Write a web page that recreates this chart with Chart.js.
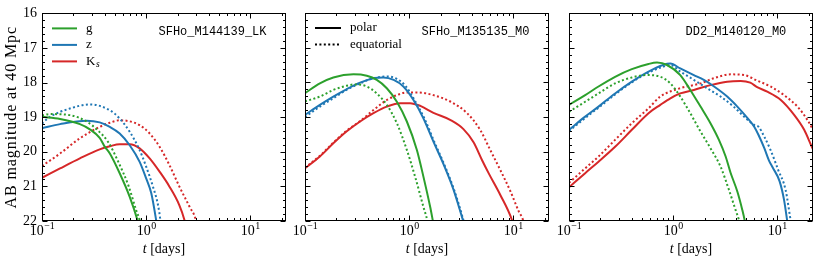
<!DOCTYPE html>
<html>
<head>
<meta charset="utf-8">
<script src="https://cdn.jsdelivr.net/npm/chart.js@4.4.0/dist/chart.umd.min.js"></script>
<style>
  body { margin: 0; background: #fff; }
  #wrap { position: relative; width: 830px; height: 260px; overflow: hidden; }
  canvas { position: absolute; top: 0; }
</style>
</head>
<body>
<div id="wrap">
  <canvas id="c1" width="300" height="260" style="left:0px"></canvas>
  <canvas id="c2" width="280" height="260" style="left:285px"></canvas>
  <canvas id="c3" width="281" height="260" style="left:549px"></canvas>
</div>
<script>
// light curves: [t in days, AB magnitude]
const xMajor = [0.1, 1, 10];
const xExp = ['\u22121', '0', '1'];
const yTicks = [16, 17, 18, 19, 20, 21, 22];
const yTitle = 'AB magnitude at 40 Mpc';
const modelNames = ['SFHo_M144139_LK', 'SFHo_M135135_M0', 'DD2_M140120_M0'];
const bandNames = ['g', 'z', 'K'];
const viewNames = ['polar', 'equatorial'];

// panel 1: SFHo_M144139_LK
const p1_gPol = [[0.1,18.99],[0.149,19.05],[0.231,19.2],[0.288,19.35],[0.358,19.6],[0.40,19.85],[0.448,20.05],[0.557,20.62],[0.695,21.3],[0.824,21.97],[0.86,22.2]];
const p1_gEq  = [[0.1,18.95],[0.119,18.91],[0.185,18.94],[0.27,19.13],[0.34,19.37],[0.43,19.71],[0.54,20.29],[0.68,21.0],[0.80,21.68],[0.866,21.97],[0.9,22.2]];
const p1_zPol = [[0.1,19.32],[0.149,19.2],[0.268,19.1],[0.358,19.15],[0.448,19.28],[0.557,19.47],[0.695,19.81],[0.866,20.29],[1.0,20.77],[1.12,21.2],[1.246,21.97],[1.28,22.2]];
const p1_zEq  = [[0.1,19.18],[0.119,18.99],[0.185,18.75],[0.29,18.63],[0.448,18.8],[0.557,19.04],[0.695,19.42],[0.866,19.95],[1.0,20.43],[1.16,21.0],[1.30,21.54],[1.37,21.97],[1.4,22.2]];
const p1_kPol = [[0.1,20.75],[0.149,20.48],[0.231,20.19],[0.358,19.93],[0.448,19.84],[0.557,19.78],[0.695,19.78],[0.866,19.9],[1.08,20.19],[1.35,20.58],[1.67,21.0],[2.08,21.54],[2.33,21.97],[2.42,22.2]];
const p1_kEq  = [[0.1,20.41],[0.149,20.05],[0.231,19.61],[0.358,19.28],[0.448,19.16],[0.557,19.09],[0.695,19.12],[0.866,19.23],[1.08,19.47],[1.35,19.86],[1.67,20.38],[2.08,21.0],[2.61,21.59],[3.0,21.97],[3.1,22.2]];

// panel 2: SFHo_M135135_M0
const p2_gPol = [[0.1,18.31],[0.139,18.03],[0.187,17.86],[0.292,17.77],[0.392,17.81],[0.489,17.93],[0.61,18.17],[0.762,18.56],[0.95,19.13],[1.186,19.95],[1.37,20.72],[1.59,21.59],[1.69,22.0],[1.74,22.2]];
const p2_gEq  = [[0.1,18.55],[0.139,18.41],[0.187,18.22],[0.25,18.1],[0.303,18.06],[0.392,18.12],[0.489,18.32],[0.61,18.65],[0.762,19.18],[0.95,19.95],[1.14,20.72],[1.37,21.59],[1.5,22.0],[1.55,22.2]];
const p2_zPol = [[0.1,18.94],[0.139,18.65],[0.187,18.41],[0.25,18.2],[0.338,18.01],[0.454,17.88],[0.565,17.86],[0.71,17.93],[0.88,18.12],[1.1,18.51],[1.37,19.04],[1.71,19.71],[2.15,20.38],[2.67,21.1],[3.21,21.88],[3.3,22.0],[3.4,22.2]];
const p2_zEq  = [[0.1,19.0],[0.139,18.7],[0.187,18.46],[0.25,18.22],[0.338,18.03],[0.454,17.88],[0.61,17.83],[0.76,17.9],[0.92,18.1],[1.12,18.5],[1.4,19.04],[1.74,19.71],[2.18,20.38],[2.7,21.1],[3.25,21.88],[3.33,22.0],[3.43,22.2]];
const p2_kPol = [[0.1,20.48],[0.139,20.14],[0.187,19.76],[0.25,19.42],[0.338,19.13],[0.454,18.89],[0.61,18.7],[0.818,18.6],[1.02,18.6],[1.28,18.68],[1.71,18.88],[2.5,19.09],[3.32,19.35],[4.15,19.73],[5.0,20.24],[5.79,20.62],[7.5,21.25],[9.7,21.97],[10.2,22.2]];
const p2_kEq  = [[0.1,20.46],[0.139,20.12],[0.187,19.74],[0.25,19.4],[0.338,19.12],[0.454,18.8],[0.61,18.51],[0.762,18.37],[0.95,18.29],[1.19,18.29],[1.71,18.37],[2.5,18.56],[3.6,18.89],[4.8,19.37],[6.0,19.95],[7.5,20.53],[9.4,21.15],[11.3,21.73],[12.4,21.97],[12.9,22.2]];

// panel 3: DD2_M140120_M0
const p3_gPol = [[0.1,18.65],[0.143,18.37],[0.192,18.12],[0.277,17.84],[0.401,17.62],[0.58,17.47],[0.70,17.43],[0.873,17.5],[1.17,17.79],[1.46,18.22],[1.83,18.7],[2.28,19.18],[2.75,19.66],[3.19,20.14],[3.55,20.6],[4.13,21.15],[4.61,21.68],[4.85,21.97],[5.0,22.2]];
const p3_gEq  = [[0.1,18.85],[0.143,18.56],[0.192,18.32],[0.277,18.03],[0.401,17.86],[0.56,17.79],[0.753,17.84],[0.94,18.03],[1.17,18.41],[1.46,18.89],[1.83,19.42],[2.28,19.9],[2.85,20.43],[3.43,21.1],[3.97,21.68],[4.28,21.97],[4.45,22.2]];
const p3_zPol = [[0.1,19.37],[0.143,18.99],[0.192,18.7],[0.277,18.32],[0.401,17.98],[0.58,17.69],[0.80,17.5],[0.94,17.46],[1.17,17.6],[1.58,17.79],[1.97,17.93],[2.47,18.12],[3.3,18.41],[4.13,18.7],[5.2,19.04],[6.0,19.28],[6.6,19.52],[7.5,19.9],[8.3,20.25],[9.0,20.45],[10.5,20.85],[11.6,21.39],[12.4,21.97],[12.7,22.2]];
const p3_zEq  = [[0.1,19.4],[0.143,19.03],[0.192,18.73],[0.277,18.35],[0.401,18.0],[0.58,17.72],[0.80,17.55],[0.94,17.5],[1.17,17.69],[1.58,17.93],[2.12,18.17],[2.85,18.41],[3.8,18.7],[4.8,18.99],[6.0,19.23],[6.6,19.28],[7.5,19.57],[8.6,19.95],[10.2,20.53],[12.0,21.1],[13.4,21.97],[13.8,22.2]];
const p3_kPol = [[0.1,21.03],[0.143,20.62],[0.192,20.29],[0.277,19.86],[0.401,19.37],[0.58,18.89],[0.753,18.65],[0.94,18.46],[1.17,18.32],[1.58,18.22],[2.28,18.08],[3.3,17.98],[4.45,17.96],[5.5,18.01],[6.4,18.14],[8.0,18.27],[10.8,18.51],[14.5,18.94],[18.1,19.37],[21.0,19.8],[22.5,20.0]];
const p3_kEq  = [[0.1,20.9],[0.143,20.48],[0.192,20.14],[0.277,19.66],[0.401,19.18],[0.58,18.75],[0.753,18.41],[1.17,18.17],[1.83,18.03],[2.47,17.88],[3.56,17.77],[4.8,17.79],[6.4,17.95],[8.6,18.12],[11.6,18.37],[15.6,18.7],[19.5,19.09],[22.5,19.42]];

const GREEN = '#2ca02c', BLUE = '#1f77b4', RED = '#d62728';
const DOT = [2, 2.4];
const SERIF = '"Liberation Serif", "DejaVu Serif", serif';

function line(points, color, dotted){
  return {
    data: points.map(p => ({x: p[0], y: p[1]})),
    borderColor: color, borderWidth: 2,
    borderDash: dotted ? DOT : [],
    borderCapStyle: 'butt',
    pointRadius: 0, fill: false,
    cubicInterpolationMode: 'monotone'
  };
}

// frame, inward ticks on all sides, x labels with exponents, legend, model name
function decoPlugin(idx){
  return {
    id: 'deco' + idx,
    afterDatasetsDraw(chart){
      const {ctx, chartArea: a, scales: {x, y}} = chart;
      ctx.save();
      ctx.strokeStyle = '#000';
      ctx.fillStyle = '#000';
      ctx.lineWidth = 1;
      ctx.setLineDash([]);
      const L = Math.round(a.left) + 0.5, R = Math.round(a.right) - 0.5;
      const T = Math.round(a.top) + 0.5, B = Math.round(a.bottom) - 0.5;
      ctx.strokeRect(L, T, R - L, B - T);

      ctx.beginPath();
      for (let k = -1; k <= 1; k++) {
        for (let j = 1; j <= 9; j++) {
          const v = j * Math.pow(10, k);
          if (v < x.min || v > x.max) continue;
          const px = Math.round(x.getPixelForValue(v)) + 0.5;
          const len = j === 1 ? 5 : 2.5;
          ctx.moveTo(px, B); ctx.lineTo(px, B - len);
          ctx.moveTo(px, T); ctx.lineTo(px, T + len);
        }
      }
      for (let i = 0; i <= 30; i++) {
        const v = 16 + i * 0.2;
        const py = Math.round(y.getPixelForValue(v)) + 0.5;
        const len = i % 5 === 0 ? 5 : 2.5;
        ctx.moveTo(L, py); ctx.lineTo(L + len, py);
        ctx.moveTo(R, py); ctx.lineTo(R - len, py);
      }
      ctx.stroke();

      // x tick labels 10^k
      ctx.textBaseline = 'alphabetic';
      xMajor.forEach((v, i) => {
        const px = x.getPixelForValue(v);
        ctx.font = '14px ' + SERIF;
        const w1 = ctx.measureText('10').width;
        ctx.font = '10px ' + SERIF;
        const w2 = ctx.measureText(xExp[i]).width;
        const x0 = px - (w1 + w2) / 2;
        ctx.font = '14px ' + SERIF;
        ctx.textAlign = 'left';
        ctx.fillText('10', x0, 235);
        ctx.font = '10px ' + SERIF;
        ctx.fillText(xExp[i], x0 + w1 + 0.5, 229);
      });

      // x title: italic t [days]
      const cx = (a.left + a.right) / 2;
      ctx.font = 'italic 14px ' + SERIF;
      const wt = ctx.measureText('t').width;
      ctx.font = '14px ' + SERIF;
      const wd = ctx.measureText(' [days]').width;
      const xs = cx - (wt + wd) / 2;
      ctx.font = 'italic 14px ' + SERIF;
      ctx.fillText('t', xs, 253);
      ctx.font = '14px ' + SERIF;
      ctx.fillText(' [days]', xs + wt, 253);

      // y title on the first panel only
      if (idx === 0) {
        ctx.save();
        ctx.translate(12, (a.top + a.bottom) / 2);
        ctx.rotate(-Math.PI / 2);
        ctx.font = '16px ' + SERIF;
        ctx.letterSpacing = '0.9px';
        ctx.textAlign = 'center';
        ctx.textBaseline = 'middle';
        ctx.fillText(yTitle, 0, 0);
        ctx.restore();
      }

      // model name
      ctx.font = '12px "Liberation Mono", "DejaVu Sans Mono", monospace';
      ctx.textAlign = 'left';
      ctx.textBaseline = 'middle';
      ctx.fillText(modelNames[idx], a.left + 116.5, a.top + 18.5);

      // legends
      const rows = [a.top + 15, a.top + 31.5, a.top + 48];
      ctx.lineWidth = 2;
      ctx.font = '13px ' + SERIF;
      if (idx === 0) {
        [GREEN, BLUE, RED].forEach((c, i) => {
          ctx.strokeStyle = c;
          ctx.beginPath();
          ctx.moveTo(a.left + 10, rows[i]); ctx.lineTo(a.left + 35, rows[i]);
          ctx.stroke();
          ctx.fillStyle = '#000';
          ctx.font = '13px ' + SERIF;
          ctx.fillText(bandNames[i], a.left + 44, rows[i]);
          if (i === 2) {
            const wk = ctx.measureText('K').width;
            ctx.font = 'italic 9.5px ' + SERIF;
            ctx.fillText('s', a.left + 44 + wk + 0.5, rows[i] + 3);
          }
        });
      } else if (idx === 1) {
        viewNames.forEach((name, i) => {
          ctx.strokeStyle = '#000';
          ctx.setLineDash(i === 1 ? DOT : []);
          ctx.beginPath();
          ctx.moveTo(a.left + 10, rows[i]); ctx.lineTo(a.left + 36, rows[i]);
          ctx.stroke();
          ctx.setLineDash([]);
          ctx.fillText(name, a.left + 45, rows[i]);
        });
      }
      ctx.restore();
    }
  };
}

function makePanel(id, idx, sets, padRight){
  const first = idx === 0;
  return new Chart(document.getElementById(id), {
    type: 'line',
    data: { datasets: [
      line(sets[0], GREEN, false), line(sets[1], GREEN, true),
      line(sets[2], BLUE, false),  line(sets[3], BLUE, true),
      line(sets[4], RED, false),   line(sets[5], RED, true)
    ]},
    options: {
      responsive: false, animation: false, events: [],
      layout: { padding: { top: 13, right: padRight, left: 0, bottom: 0 } },
      plugins: { legend: { display: false }, tooltip: { enabled: false } },
      scales: {
        x: {
          type: 'logarithmic', min: 0.1, max: 22,
          ticks: { display: false }, grid: { display: false, drawTicks: false }, border: { display: false },
          afterFit: s => { s.height = 39; }
        },
        y: {
          min: 16, max: 22, reverse: true,
          afterBuildTicks: s => { s.ticks = yTicks.map(v => ({value: v})); },
          ticks: { display: first, padding: 5, color: '#000', font: { family: SERIF, size: 14 } },
          grid: { display: false, drawTicks: false }, border: { display: false },
          afterFit: s => { s.width = first ? 42 : 20; }
        }
      }
    },
    plugins: [decoPlugin(idx)]
  });
}

makePanel('c1', 0, [p1_gPol, p1_gEq, p1_zPol, p1_zEq, p1_kPol, p1_kEq], 14);
makePanel('c2', 1, [p2_gPol, p2_gEq, p2_zPol, p2_zEq, p2_kPol, p2_kEq], 16);
makePanel('c3', 2, [p3_gPol, p3_gEq, p3_zPol, p3_zEq, p3_kPol, p3_kEq], 17);
</script>
</body>
</html>
